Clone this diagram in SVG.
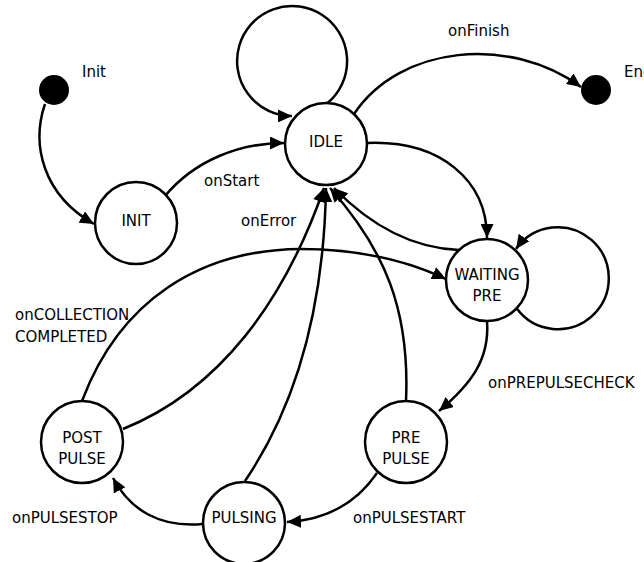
<svg xmlns="http://www.w3.org/2000/svg" width="644" height="562" viewBox="0 0 644 562">
<style>
.n{fill:#fff;stroke:#000;stroke-width:2.5}
.d{fill:#000}
.e{fill:none;stroke:#000;stroke-width:2.5}
text{font-family:"DejaVu Sans","Liberation Sans",sans-serif;font-size:15px;fill:#000}
.c{text-anchor:middle}
</style>
<defs>
<marker id="a" markerUnits="userSpaceOnUse" markerWidth="15" markerHeight="13" refX="14" refY="6.5" orient="auto">
<path d="M0,0 L14,6.5 L0,13 Z" fill="#000"/>
</marker>
</defs>
<g id="edges">
<path class="e" d="M45,104 C31,145 43,195 94,224" marker-end="url(#a)"/>
<path class="e" d="M165,196 C195,160 240,143 284,143" marker-end="url(#a)"/>
<path class="e" d="M327.6,103 A55,55 0 1 0 292,116" marker-end="url(#a)"/>
<path class="e" d="M354,114 C400,45 510,35 581,87" marker-end="url(#a)"/>
<path class="e" d="M367,143 C440,140 487,180 487,238" marker-end="url(#a)"/>
<path class="e" d="M459,250 C410,248 370,225 334,188" marker-end="url(#a)"/>
<path class="e" d="M123,429 C220,390 285,300 324,188" marker-end="url(#a)"/>
<path class="e" d="M245,481 C300,400 324,300 326,188" marker-end="url(#a)"/>
<path class="e" d="M406,401 C410,310 385,250 330,188" marker-end="url(#a)"/>
<path class="e" d="M516.6,308.3 A51,51 0 1 0 516,249" marker-end="url(#a)"/>
<path class="e" d="M487,321 C490,360 470,385 439,411" marker-end="url(#a)"/>
<path class="e" d="M377,473 C355,505 325,520 287,522" marker-end="url(#a)"/>
<path class="e" d="M203,524 C160,528 130,510 113,478" marker-end="url(#a)"/>
<path class="e" d="M82,401 C120,300 200,250 300,249 C360,249 410,262 446,279" marker-end="url(#a)"/>
</g>
<g id="labels">
<text x="82" y="77">Init</text>
<text x="624" y="77">End</text>
<text x="448" y="36">onFinish</text>
<text x="204" y="186">onStart</text>
<text x="241" y="226">onError</text>
<text x="15" y="320">onCOLLECTION</text>
<text x="15" y="342">COMPLETED</text>
<text x="488" y="388">onPREPULSECHECK</text>
<text x="12" y="523">onPULSESTOP</text>
<text x="353" y="523">onPULSESTART</text>
</g>
<g id="start"><circle class="d" cx="54" cy="90" r="15"/></g>
<g id="end"><circle class="d" cx="596" cy="90" r="15"/></g>
<g id="idle"><circle class="n" cx="326" cy="144" r="41"/><text class="c" x="326" y="147">IDLE</text></g>
<g id="init"><circle class="n" cx="136" cy="223" r="41"/><text class="c" x="136" y="226">INIT</text></g>
<g id="waitingpre"><circle class="n" cx="487" cy="280" r="41"/><text class="c" x="487" y="280">WAITING</text><text class="c" x="487" y="301">PRE</text></g>
<g id="prepulse"><circle class="n" cx="406" cy="442" r="41"/><text class="c" x="406" y="443">PRE</text><text class="c" x="406" y="464">PULSE</text></g>
<g id="postpulse"><circle class="n" cx="82" cy="442" r="41"/><text class="c" x="82" y="443">POST</text><text class="c" x="82" y="464">PULSE</text></g>
<g id="pulsing"><circle class="n" cx="244" cy="523" r="41"/><text class="c" x="244" y="523">PULSING</text></g>
</svg>
